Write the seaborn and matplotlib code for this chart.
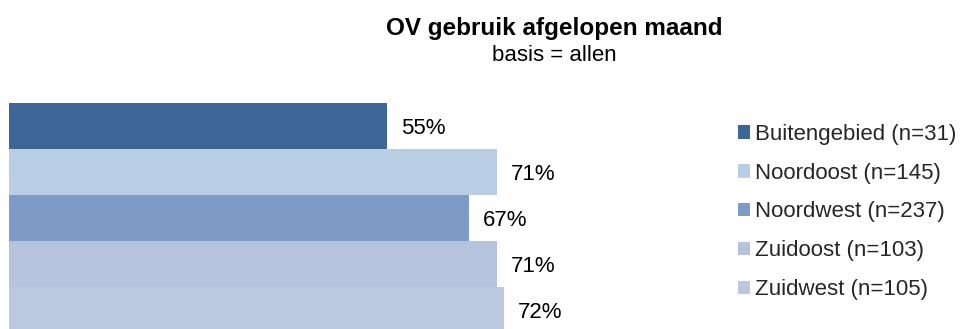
import matplotlib
matplotlib.use("Agg")
import matplotlib.pyplot as plt
import matplotlib.patches as mpatches
import seaborn as sns
import pandas as pd

regions = ["Buitengebied (n=31)", "Noordoost (n=145)", "Noordwest (n=237)",
           "Zuidoost (n=103)", "Zuidwest (n=105)"]
values = [55, 71, 67, 71, 72]
colors = ["#3D6596", "#B9CDE5", "#7E9BC8", "#B5C3DC", "#BBC8E0"]

title = "OV gebruik afgelopen maand"
subtitle = "basis = allen"

sns.set_theme(style="white")
plt.rcParams["font.family"] = ["Liberation Sans", "DejaVu Sans"]

W, H = 962, 329
fig = plt.figure(figsize=(W / 100, H / 100), dpi=100)
fig.patch.set_facecolor("white")

# plot area in pixel units: left 9, top 103, 46 px per bar
left_px, top_px, bar_px, span_px = 9, 103, 46, 687
ax = fig.add_axes([left_px / W, (H - top_px - 5 * bar_px) / H,
                   span_px / W, 5 * bar_px / H])

df = pd.DataFrame({"regio": regions, "pct": values})
sns.barplot(data=df, y="regio", x="pct", hue="regio", palette=colors,
            width=1.0, saturation=1, legend=False, orient="h",
            linewidth=0, ax=ax)

ax.set_xlim(0, 100)
ax.set_ylim(4.5, -0.5)
ax.set_axis_off()

for i, v in enumerate(values):
    ax.annotate(f"{v}%", xy=(v, i), xytext=(10, -2), textcoords="offset points",
                ha="left", va="center", fontsize=16, color="black")

handles = [mpatches.Patch(facecolor=c, edgecolor="none", label=r)
           for r, c in zip(regions, colors)]
fig.legend(handles=handles, loc="center left",
           bbox_to_anchor=(738 / W, 1 - 212 / H), frameon=False,
           fontsize=16, handlelength=0.55, handleheight=0.55,
           handletextpad=0.23, labelspacing=0.8, borderpad=0,
           borderaxespad=0)

fig.text(554 / W, 1 - 35 / H, title, ha="center", va="baseline",
         fontsize=17.5, fontweight="bold", color="black")
fig.text(554 / W, 1 - 61 / H, subtitle, ha="center", va="baseline",
         fontsize=16, color="black")

fig.savefig("out.png", dpi=100)
